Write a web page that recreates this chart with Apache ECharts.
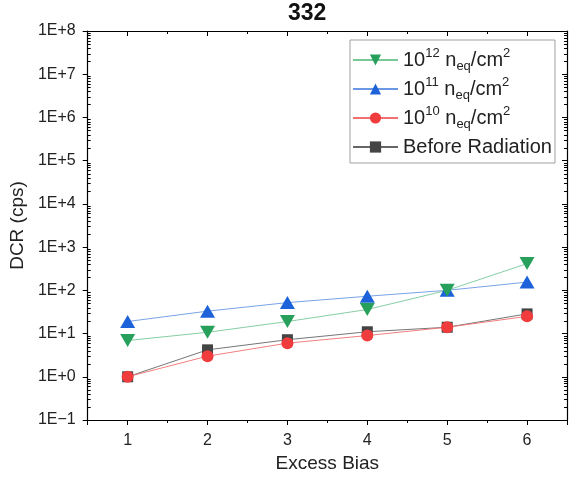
<!DOCTYPE html>
<html>
<head>
<meta charset="utf-8">
<script src="https://cdn.jsdelivr.net/npm/echarts@6/dist/echarts.min.js"></script>
<style>html,body{margin:0;padding:0;background:#fff;}#c{width:572px;height:481px;background:#fff;}</style>
</head>
<body>
<div id="c"></div>
<script>
var xValues = [1, 2, 3, 4, 5, 6];
var dcr1e12 = [6.9, 10.7, 19, 36, 100, 415];
var dcr1e11 = [19, 33, 52, 73, 100, 155];
var dcr1e10 = [1, 3.0, 6.0, 9.0, 14, 25];
var dcrBefore = [1, 4.2, 7.2, 11, 14, 28.5];
var seriesNames = ['1e12', '1e11', '1e10', 'Before Radiation'];

// minor tick values of the log axis: 2..9 x 10^n
var yMinorTickValues = [];
for (var n = -1; n < 8; n++) {
  for (var k = 2; k <= 9; k++) yMinorTickValues.push([1, k * Math.pow(10, n)]);
}
function pairs(ys) { return xValues.map(function (x, i) { return [x, ys[i]]; }); }

var FONT = '"Liberation Sans", Arial, sans-serif';
var legendText = {
  '1e12': '10{sup|12} n{sub|eq}/cm{sup|2}',
  '1e11': '10{sup|11} n{sub|eq}/cm{sup|2}',
  '1e10': '10{sup|10} n{sub|eq}/cm{sup|2}',
  'Before Radiation': 'Before Radiation'
};

var chart = echarts.init(document.getElementById('c'));
chart.setOption({
  animation: false,
  title: {
    text: '332', left: 288, top: 2, padding: 0,
    textStyle: { fontFamily: FONT, fontSize: 23, fontWeight: 'bold', color: '#111' }
  },
  grid: { left: 86, right: 5, top: 31, bottom: 61 },
  legend: {
    data: seriesNames,
    orient: 'vertical', left: 350, top: 40,
    padding: [7, 3, 3, 2], itemGap: 3,
    itemWidth: 45, itemHeight: 14,
    borderColor: '#a0a0a0', borderWidth: 1, backgroundColor: '#fff',
    formatter: function (name) { return legendText[name]; },
    textStyle: {
      fontFamily: FONT, fontSize: 20, color: '#222', lineHeight: 26,
      rich: {
        sup: { fontFamily: FONT, fontSize: 13, lineHeight: 13, verticalAlign: 'top', color: '#222' },
        sub: { fontFamily: FONT, fontSize: 13, lineHeight: 13, verticalAlign: 'bottom', color: '#222' }
      }
    }
  },
  xAxis: [
    {
      type: 'value', min: 0.5, max: 6.5, position: 'bottom',
      name: 'Excess Bias', nameLocation: 'middle', nameGap: 34,
      nameTextStyle: { fontFamily: FONT, fontSize: 19, color: '#222' },
      axisLine: { show: true, onZero: false, lineStyle: { color: '#000', width: 1.2 } },
      axisTick: { show: true, length: 5, lineStyle: { color: '#000', width: 1 } },
      minorTick: { show: true, splitNumber: 2, length: 3, lineStyle: { color: '#000', width: 1 } },
      splitLine: { show: false },
      axisLabel: {
        margin: 13, fontFamily: FONT, fontSize: 16, color: '#222',
        formatter: function (v) { return Math.abs(v - Math.round(v)) < 1e-6 ? String(Math.round(v)) : ''; }
      }
    },
    {
      type: 'value', min: 0.5, max: 6.5, position: 'top',
      axisLine: { show: true, onZero: false, lineStyle: { color: '#000', width: 1.2 } },
      axisTick: { show: true, inside: true, length: 5, lineStyle: { color: '#000', width: 1 } },
      minorTick: { show: true, splitNumber: 2, length: 3, lineStyle: { color: '#000', width: 1 } },
      splitLine: { show: false }, axisLabel: { show: false }
    }
  ],
  yAxis: [
    {
      type: 'log', min: 0.1, max: 1e8, position: 'left',
      name: 'DCR (cps)', nameLocation: 'middle', nameGap: 56,
      nameTextStyle: { fontFamily: FONT, fontSize: 19, color: '#222' },
      axisLine: { show: true, onZero: false, lineStyle: { color: '#000', width: 1.2 } },
      axisTick: { show: true, length: 5, lineStyle: { color: '#000', width: 1 } },
      splitLine: { show: false },
      axisLabel: {
        margin: 12, fontFamily: FONT, fontSize: 16, color: '#222',
        formatter: function (v) { var e = Math.round(Math.log10(v)); return '1E' + (e < 0 ? '\u2212' : '+') + Math.abs(e); }
      }
    },
    {
      type: 'value', min: -1, max: 8, interval: 1, position: 'right',
      axisLine: { show: true, onZero: false, lineStyle: { color: '#000', width: 1.2 } },
      axisTick: { show: true, inside: true, length: 5, lineStyle: { color: '#000', width: 1 } },
      splitLine: { show: false }, axisLabel: { show: false }
    }
  ],
  series: [
    {
      type: 'custom', silent: true, clip: false, data: yMinorTickValues,
      renderItem: function (params, api) {
        var cs = params.coordSys;
        var y = Math.round(api.coord([api.value(0), api.value(1)])[1]) + 0.5;
        return {
          type: 'group', children: [
            { type: 'line', shape: { x1: cs.x, y1: y, x2: cs.x + 3, y2: y }, style: { stroke: '#000', lineWidth: 1 } },
            { type: 'line', shape: { x1: cs.x + cs.width - 3, y1: y, x2: cs.x + cs.width, y2: y }, style: { stroke: '#000', lineWidth: 1 } }
          ]
        };
      }
    },
    {
      name: 'Before Radiation', type: 'line', data: pairs(dcrBefore),
      symbol: 'rect', symbolSize: 11,
      itemStyle: { color: '#444' }, lineStyle: { width: 0.9, color: '#666' }
    },
    {
      name: '1e10', type: 'line', data: pairs(dcr1e10),
      symbol: 'circle', symbolSize: 12,
      itemStyle: { color: '#f03c3c' }, lineStyle: { width: 0.9, color: '#f27070' }
    },
    {
      name: '1e11', type: 'line', data: pairs(dcr1e11),
      symbol: 'triangle', symbolSize: [15, 13],
      itemStyle: { color: '#1d62d8' }, lineStyle: { width: 0.9, color: '#6a98e4' }
    },
    {
      name: '1e12', type: 'line', data: pairs(dcr1e12),
      symbol: 'triangle', symbolSize: [15, 13], symbolRotate: 180,
      itemStyle: { color: '#27a05c' }, lineStyle: { width: 0.9, color: '#78c898' }
    }
  ]
});
</script>
</body>
</html>
